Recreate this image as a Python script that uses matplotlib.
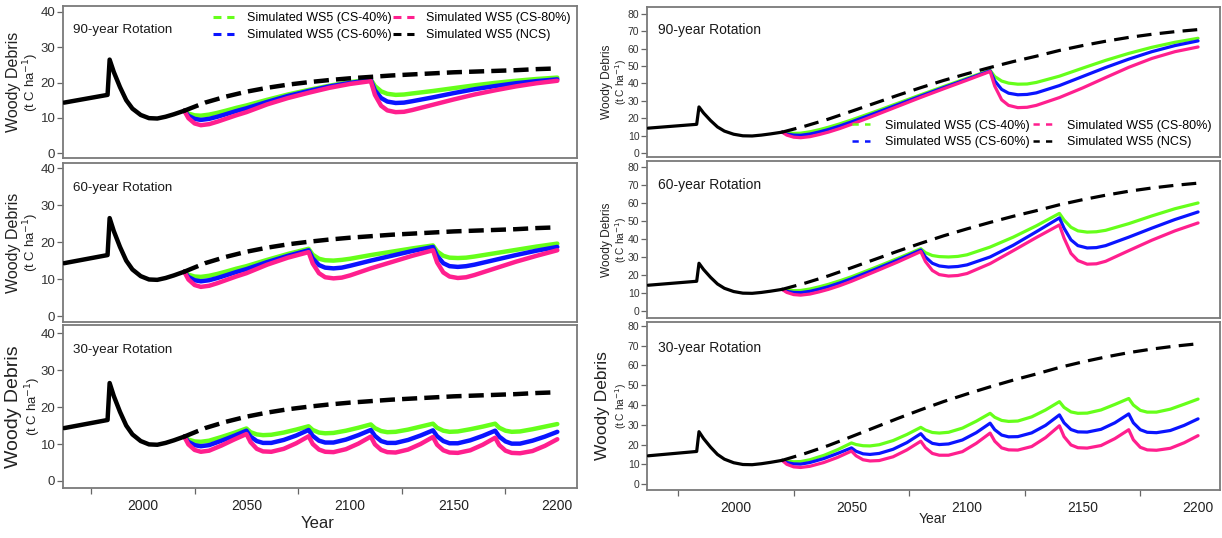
import matplotlib
matplotlib.use("Agg")
import matplotlib.pyplot as plt
from matplotlib import font_manager as fm
from matplotlib.lines import Line2D
from matplotlib.ticker import FixedLocator

# ---------------------------------------------------------------- data
# Pre-2020 woody-debris history (shared by every panel)
hist_years = [1962, 1983, 1984, 1986, 1989, 1992, 1995, 1999, 2003, 2007, 2011, 2015, 2020]
hist_values = [14.3, 16.5, 26.5, 23.0, 18.7, 15.0, 12.6, 10.8, 9.9, 9.8, 10.3, 11.0, 12.0]

scenario_labels = ["Simulated WS5 (CS-40%)", "Simulated WS5 (CS-60%)",
                   "Simulated WS5 (CS-80%)", "Simulated WS5 (NCS)"]
panel_titles = ["90-year Rotation", "60-year Rotation", "30-year Rotation"]

# No-clearcut scenario
ncs_years = [2020, 2030, 2040, 2050, 2060, 2070, 2080, 2090, 2100, 2110,
             2120, 2130, 2140, 2150, 2160, 2170, 2180, 2190, 2200]
ncs_left = [12.0, 14.3, 16.0, 17.4, 18.5, 19.4, 20.1, 20.7, 21.2, 21.6,
            22.0, 22.3, 22.6, 22.9, 23.1, 23.3, 23.5, 23.8, 24.0]
ncs_right = [12.0, 15.5, 19.5, 24.0, 28.6, 33.2, 37.6, 41.8, 45.6, 49.2,
             52.6, 55.7, 59.0, 61.8, 64.3, 66.5, 68.3, 69.8, 71.0]

# Year grids for the clearcut scenarios
years_rot90 = [2020, 2022, 2025, 2028, 2032, 2036, 2040, 2045, 2050, 2060, 2070, 2080,
               2090, 2100, 2110, 2112, 2115, 2118, 2122, 2126, 2130, 2140,
               2150, 2160, 2170, 2180, 2190, 2200]
years_rot60 = [2020, 2022, 2025, 2028, 2032, 2036, 2040, 2045, 2050, 2060, 2070, 2080,
               2082, 2085, 2088, 2092, 2096, 2100, 2110, 2120, 2130, 2140,
               2142, 2145, 2148, 2152, 2156, 2160, 2170, 2180, 2190, 2200]
years_rot30 = [2020, 2022, 2025, 2028, 2032, 2038, 2044,
               2050, 2052, 2055, 2058, 2062, 2068, 2074,
               2080, 2082, 2085, 2088, 2092, 2098, 2104,
               2110, 2112, 2115, 2118, 2122, 2128, 2134,
               2140, 2142, 2145, 2148, 2152, 2158, 2164,
               2170, 2172, 2175, 2178, 2182, 2188, 2194,
               2200]

# Left column (scale 0-40)
left90_cs40 = [12.0, 11.2, 10.7, 10.6, 10.9, 11.4, 12.0, 12.8, 13.5, 15.1, 16.6, 17.9,
               19.1, 20.1, 20.9, 19.0, 17.5, 16.8, 16.5, 16.6, 16.9, 17.6,
               18.4, 19.2, 19.9, 20.5, 21.0, 21.4]
left90_cs60 = [12.0, 10.6, 9.7, 9.4, 9.7, 10.3, 11.0, 11.9, 12.7, 14.5, 16.2, 17.6,
               18.9, 19.9, 20.7, 17.8, 15.6, 14.6, 14.2, 14.3, 14.7, 15.8,
               17.0, 18.1, 19.0, 19.8, 20.4, 20.9]
left90_cs80 = [12.0, 9.9, 8.4, 7.9, 8.2, 8.9, 9.7, 10.7, 11.6, 13.8, 15.6, 17.1,
               18.5, 19.6, 20.4, 16.5, 13.4, 12.1, 11.6, 11.7, 12.2, 13.7,
               15.2, 16.6, 17.8, 18.9, 19.8, 20.5]

left60_cs40 = [12.0, 11.2, 10.7, 10.6, 10.9, 11.4, 12.0, 12.8, 13.5, 15.2, 16.8, 18.2,
               16.6, 15.5, 15.1, 15.0, 15.2, 15.5, 16.5, 17.4, 18.3, 19.1,
               17.5, 16.3, 15.8, 15.7, 15.8, 16.1, 17.0, 17.9, 18.8, 19.6]
left60_cs60 = [12.0, 10.6, 9.7, 9.4, 9.7, 10.3, 11.0, 11.9, 12.7, 14.6, 16.3, 17.8,
               15.6, 13.8, 13.1, 12.9, 13.1, 13.6, 15.0, 16.3, 17.6, 18.7,
               16.3, 14.3, 13.5, 13.3, 13.5, 13.9, 15.2, 16.5, 17.7, 18.7]
left60_cs80 = [12.0, 9.9, 8.4, 7.9, 8.2, 8.9, 9.7, 10.7, 11.6, 13.9, 15.8, 17.3,
               14.2, 11.6, 10.5, 10.2, 10.4, 11.0, 12.9, 14.6, 16.3, 17.8,
               14.5, 11.8, 10.7, 10.3, 10.5, 11.1, 12.9, 14.7, 16.3, 17.8]

left30_cs40 = [12.0, 11.2, 10.7, 10.6, 10.9, 11.9, 13.0,
               14.2, 13.2, 12.6, 12.4, 12.5, 13.1, 13.9,
               14.8, 13.8, 13.1, 12.9, 13.0, 13.6, 14.4,
               15.3, 14.3, 13.5, 13.2, 13.3, 13.9, 14.7,
               15.5, 14.4, 13.6, 13.3, 13.4, 14.0, 14.7,
               15.5, 14.4, 13.6, 13.3, 13.4, 14.0, 14.7,
               15.4]
left30_cs60 = [12.0, 10.6, 9.7, 9.4, 9.7, 10.9, 12.2,
               13.6, 12.0, 10.8, 10.3, 10.3, 11.1, 12.3,
               13.8, 12.2, 10.9, 10.4, 10.4, 11.2, 12.4,
               13.8, 12.2, 10.8, 10.3, 10.3, 11.1, 12.3,
               13.7, 12.1, 10.8, 10.2, 10.2, 11.0, 12.2,
               13.6, 12.0, 10.7, 10.1, 10.1, 10.9, 12.0,
               13.3]
left30_cs80 = [12.0, 9.9, 8.4, 7.9, 8.2, 9.6, 11.2,
               12.7, 10.5, 8.7, 8.0, 7.9, 8.7, 10.2,
               12.1, 10.0, 8.5, 7.9, 7.8, 8.6, 10.1,
               12.0, 9.9, 8.4, 7.8, 7.7, 8.5, 10.0,
               11.9, 9.8, 8.3, 7.7, 7.6, 8.3, 9.8,
               11.7, 9.7, 8.2, 7.6, 7.5, 8.1, 9.5,
               11.3]

# Right column (scale 0-80)
right90_cs40 = [12.0, 11.6, 11.3, 11.4, 12.2, 13.4, 14.8, 16.8, 19.0, 23.7, 28.6, 33.5,
                38.3, 43.0, 47.6, 44.0, 41.4, 40.2, 39.6, 39.7, 40.6, 44.2,
                48.8, 53.3, 57.3, 60.8, 63.7, 66.0]
right90_cs60 = [12.0, 10.9, 10.3, 10.2, 10.9, 12.1, 13.5, 15.6, 17.9, 22.8, 27.8, 32.8,
                37.7, 42.5, 47.3, 41.5, 36.6, 34.4, 33.5, 33.7, 34.6, 38.8,
                44.0, 49.2, 54.0, 58.3, 61.8, 64.5]
right90_cs80 = [12.0, 10.3, 9.1, 8.8, 9.4, 10.6, 12.0, 14.1, 16.5, 21.6, 26.8, 32.0,
                37.0, 41.9, 46.9, 38.5, 30.6, 27.4, 26.1, 26.3, 27.4, 31.9,
                37.4, 43.4, 49.3, 54.4, 58.3, 61.0]

right60_cs40 = [12.0, 11.6, 11.3, 11.4, 12.2, 13.4, 14.8, 16.8, 19.0, 24.0, 29.2, 34.6,
                32.4, 30.8, 30.2, 30.0, 30.3, 31.2, 35.5, 41.0, 47.3, 54.2,
                50.5, 46.5, 44.5, 43.8, 44.0, 44.8, 48.5, 52.8, 56.8, 60.0]
right60_cs60 = [12.0, 10.9, 10.3, 10.2, 10.9, 12.1, 13.5, 15.6, 17.9, 23.0, 28.3, 33.9,
                30.0, 26.5, 25.0, 24.4, 24.7, 25.6, 30.0, 36.5, 44.0, 51.7,
                46.0, 39.5, 36.3, 35.0, 35.2, 36.3, 41.0, 46.0, 50.8, 55.0]
right60_cs80 = [12.0, 10.3, 9.1, 8.8, 9.4, 10.6, 12.0, 14.1, 16.5, 21.8, 27.2, 33.0,
                27.5, 22.5, 20.2, 19.4, 19.7, 20.8, 26.3, 33.5, 40.8, 47.8,
                40.5, 32.0, 28.0, 26.0, 26.2, 27.6, 33.5, 39.3, 44.5, 48.9]

right30_cs40 = [12.0, 11.6, 11.3, 11.4, 12.3, 14.5, 17.4,
                20.8, 20.0, 19.4, 19.3, 19.9, 22.0, 25.1,
                28.7, 27.3, 26.1, 25.8, 26.2, 28.3, 31.8,
                35.8, 33.8, 32.2, 31.7, 31.9, 34.0, 37.5,
                41.7, 38.8, 36.5, 35.8, 35.9, 37.5, 40.3,
                43.3, 40.0, 37.3, 36.4, 36.4, 37.9, 40.4,
                43.0]
right30_cs60 = [12.0, 10.9, 10.2, 10.1, 10.9, 12.9, 15.5,
                18.3, 16.6, 15.3, 15.0, 15.5, 17.6, 21.0,
                25.5, 22.8, 20.6, 20.0, 20.3, 22.3, 26.0,
                30.8, 27.5, 24.8, 23.9, 24.0, 25.9, 29.7,
                35.0, 31.0, 27.6, 26.4, 26.3, 27.7, 31.0,
                35.5, 31.0, 27.5, 26.2, 26.0, 27.1, 29.7,
                33.0]
right30_cs80 = [12.0, 10.0, 8.7, 8.4, 9.0, 10.9, 13.5,
                16.7, 14.3, 12.3, 11.7, 11.9, 13.8, 17.3,
                21.7, 18.4, 15.5, 14.6, 14.6, 16.4, 20.6,
                25.8, 21.7, 18.3, 17.3, 17.2, 19.0, 23.5,
                29.5, 24.0, 19.8, 18.4, 18.2, 19.5, 23.0,
                27.5, 22.4, 18.6, 17.3, 17.1, 18.1, 20.9,
                24.5]

# ---------------------------------------------------------------- style
installed = {f.name for f in fm.fontManager.ttflist}
NARROW = "Liberation Sans Narrow" if "Liberation Sans Narrow" in installed else "Liberation Sans"
REGULAR = "Liberation Sans"

C40, C60, C80, CNCS = "#66ff1a", "#0a14ff", "#ff1f8e", "#000000"
FRAME = "#7a7a7a"

fig = plt.figure(figsize=(12.22, 5.38), dpi=100)
W, H = 1222.0, 538.0


def add_axes(x0, y0, x1, y1):
    return fig.add_axes([x0 / W, 1 - y1 / H, (x1 - x0) / W, (y1 - y0) / H])


def draw_panel(ax, years, cs40, cs60, cs80, ncs, title, ylim, ymax_tick, lw,
               dashes, font, tick_size, xtick_size, title_size, bottom):
    ax.plot(hist_years, hist_values, color="black", lw=lw, solid_capstyle="round",
            zorder=5)
    for vals, col in ((cs40, C40), (cs60, C60), (cs80, C80)):
        ax.plot(years, vals, color=col, lw=lw, solid_capstyle="round",
                solid_joinstyle="round", zorder=3)
    ax.plot(ncs_years, ncs, color=CNCS, lw=lw, dashes=dashes, zorder=4)
    ax.set_xlim(1961.5, 2209.5)
    ax.set_ylim(*ylim)
    ax.yaxis.set_major_locator(FixedLocator(list(range(0, ymax_tick + 1, 10))))
    ax.tick_params(axis="y", direction="out", length=4, width=0.9, colors="#666666",
                   labelcolor="#333333", labelsize=tick_size, pad=1.5)
    for lab in ax.get_yticklabels():
        lab.set_family(font)
    for sp in ax.spines.values():
        sp.set_color(FRAME)
        sp.set_linewidth(1.3)
    ax.text(0.02, 0.845, title, transform=ax.transAxes, fontsize=title_size,
            family=font, color="#1a1a1a", va="center", ha="left")
    if bottom:
        ax.xaxis.set_major_locator(FixedLocator([2000, 2050, 2100, 2150, 2200]))
        ax.xaxis.set_minor_locator(FixedLocator([1975, 2025, 2075, 2125, 2175]))
        ax.tick_params(axis="x", which="major", length=0, labelsize=xtick_size,
                       labelcolor="#222222", pad=8)
        ax.tick_params(axis="x", which="minor", length=4, width=0.9,
                       colors="#666666")
        for lab in ax.get_xticklabels():
            lab.set_family(font)
    else:
        ax.set_xticks([])


# Left column
left_specs = [
    (6, 158, years_rot90, left90_cs40, left90_cs60, left90_cs80, (-1.4, 41.7)),
    (163, 322, years_rot60, left60_cs40, left60_cs60, left60_cs80, (-1.6, 41.4)),
    (325, 488, years_rot30, left30_cs40, left30_cs60, left30_cs80, (-1.9, 42.2)),
]
left_axes = []
for i, (y0, y1, yrs, a, b, c, yl) in enumerate(left_specs):
    ax = add_axes(63, y0, 577, y1)
    draw_panel(ax, yrs, a, b, c, ncs_left, panel_titles[i], yl, 40, 3.2,
               (3.4, 1.6), NARROW, 9.5, 10, 9.6, i == 2)
    left_axes.append(ax)

# Right column
right_specs = [
    (7, 157, years_rot90, right90_cs40, right90_cs60, right90_cs80, (-2.3, 84.0)),
    (161, 318, years_rot60, right60_cs40, right60_cs60, right60_cs80, (-3.9, 83.3)),
    (322, 490, years_rot30, right30_cs40, right30_cs60, right30_cs80, (-3.0, 82.0)),
]
right_axes = []
for i, (y0, y1, yrs, a, b, c, yl) in enumerate(right_specs):
    ax = add_axes(647, y0, 1220, y1)
    draw_panel(ax, yrs, a, b, c, ncs_right, panel_titles[i], yl, 80, 2.3,
               (4.6, 2.6), REGULAR, 7.5, 10, 10, i == 2)
    right_axes.append(ax)

# Axis labels: (x of name, x of units, name size, units size)
left_label_pos = [(14, 31, 11.5, 9.5), (14, 31, 11.5, 9.5), (14, 33, 14, 9.5)]
right_label_pos = [(607, 621, 8.6, 7.3), (607, 621, 8.6, 7.3), (602, 621, 12.5, 7.3)]
for spec, pos in zip(left_specs + right_specs, left_label_pos + right_label_pos):
    yc = 1 - ((spec[0] + spec[1]) / 2) / H
    fig.text(pos[0] / W, yc, "Woody Debris", rotation=90, va="center", ha="center",
             fontsize=pos[2], family=REGULAR, color="#222222")
    fig.text(pos[1] / W, yc, "(t C ha$^{-1}$)", rotation=90, va="center", ha="center",
             fontsize=pos[3], family=REGULAR, color="#222222")

fig.text(318 / W, 1 - 523 / H, "Year", ha="center", va="center", fontsize=12,
         family=NARROW, color="#222222")
fig.text(933 / W, 1 - 519 / H, "Year", ha="center", va="center", fontsize=10,
         family=REGULAR, color="#222222")

# Legends: short two-dash handles
def legend_handles(lw, dashes):
    return [Line2D([0], [0], color=c, lw=lw, dashes=dashes, dash_capstyle="butt")
            for c in (C40, C60, C80, CNCS)]

left_axes[0].legend(legend_handles(2.2, (2.6, 1.9)), scenario_labels, ncol=2,
                    loc="upper right", bbox_to_anchor=(0.988, 0.96), frameon=False,
                    borderpad=0, borderaxespad=0, handlelength=1.7,
                    handletextpad=1.0, columnspacing=0.1, labelspacing=0.4,
                    prop={"family": NARROW, "size": 9})
right_axes[0].legend(legend_handles(1.8, (2.5, 2.5)), scenario_labels, ncol=2,
                     loc="lower right", bbox_to_anchor=(0.985, 0.06), frameon=False,
                     borderpad=0, borderaxespad=0, handlelength=1.5,
                     handletextpad=1.2, columnspacing=0.25, labelspacing=0.35,
                     prop={"family": REGULAR, "size": 9})

fig.savefig("out.png", dpi=100)
